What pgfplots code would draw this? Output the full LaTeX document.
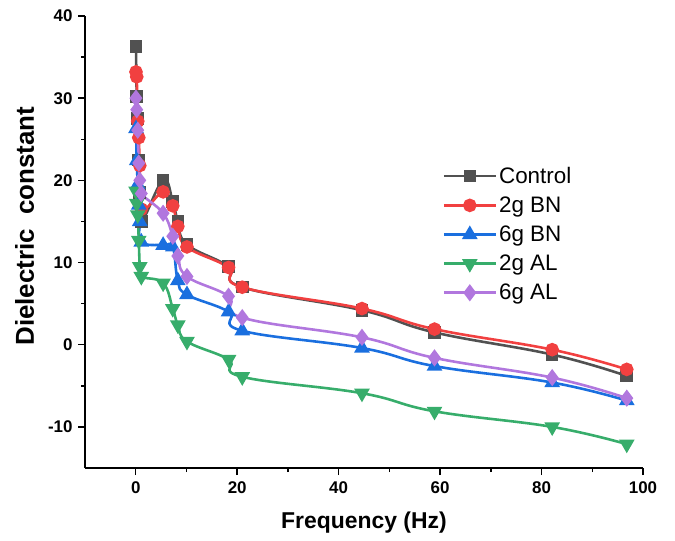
\documentclass[border=0pt]{standalone}
\usepackage{fontspec}
\setmainfont{Liberation Sans}
\usepackage{pgfplots}
\pgfplotsset{compat=1.18}
\definecolor{cctrl}{RGB}{81,81,81}
\definecolor{cbn2}{RGB}{241,64,64}
\definecolor{cbn6}{RGB}{26,111,223}
\definecolor{cal2}{RGB}{55,173,107}
\definecolor{cal6}{RGB}{177,119,222}

% frequency (Hz) vs dielectric constant
\pgfplotstableread{
f     ctrl  bn2   bn6   al2   al6
0.05  36.3  33.2  26.3  18.7  30.0
0.2   30.2  32.6  22.4  17.2  28.6
0.4   27.5  27.2  19.5  15.8  26.1
0.6   22.5  25.2  17.0  12.7  22.1
0.8   18.5  21.8  15.0   9.5  20.0
1.1   15.0  16.5  12.5   8.3  18.4
5.4   20.0  18.6  12.1   7.5  16.0
7.3   17.4  16.9  11.9   4.4  13.2
8.3   15.0  14.4   7.8   2.4  10.8
10.1  12.2  11.9   6.1   0.4   8.3
18.3   9.5   9.4   4.0  -1.8   5.9
21.0   7.0   7.0   1.7  -3.9   3.3
44.6   4.2   4.4  -0.4  -5.9   0.9
58.9   1.5   1.9  -2.6  -8.1  -1.6
82.1  -1.2  -0.6  -4.6 -10.0  -4.0
96.8  -3.8  -3.0  -6.8 -12.1  -6.5
}\dielectric

\begin{document}
\begin{tikzpicture}
\useasboundingbox (-85bp,-73bp) rectangle (590bp,468bp);
\begin{axis}[
    at={(0,0)}, anchor=south west,
    scale only axis,
    width=558bp, height=452bp,
    xmin=-10, xmax=100,
    ymin=-15, ymax=40,
    axis x line*=bottom,
    axis y line*=left,
    axis line style={line width=1.6pt},
    xtick={0,20,...,100},
    ytick={-10,0,...,40},
    minor x tick num=1,
    minor y tick num=1,
    tick align=outside,
    major tick length=7bp,
    minor tick length=4bp,
    tick style={line width=1.4pt, black},
    /pgf/number format/assume math mode=true,
    ticklabel style={font=\fontsize{17}{17}\selectfont\bfseries},
    xticklabel style={yshift=-3bp},
    yticklabel style={xshift=-2bp},
    xlabel={Frequency (Hz)},
    ylabel={Dielectric~~constant},
    label style={font=\bfseries},
    x label style={font=\fontsize{23}{23}\selectfont\bfseries,
        at={(axis description cs:0.5,-0.12)}, anchor=center},
    y label style={font=\fontsize{26}{26}\selectfont\bfseries,
        at={(axis description cs:-0.108,0.535)}, anchor=center},
    every axis plot/.append style={line width=2.6pt, smooth, tension=0.7},
    legend cell align=left,
    legend style={
        draw=none, fill=none,
        at={(0.635,0.675)}, anchor=north west,
        font=\fontsize{22.5}{22.5}\selectfont,
        row sep=8bp,
        /tikz/every even column/.append style={column sep=5bp},
    },
    legend image code/.code={
        \draw[mark repeat=2, mark phase=2, line width=2.6pt]
            plot coordinates {(0bp,0bp) (26bp,0bp) (52bp,0bp)};
    },
]
\addplot[cctrl, mark=square*, mark size=5bp] table[x=f, y=ctrl] {\dielectric};
\addlegendentry{Control}
\addplot[cbn2, mark=*, mark size=5.5bp] table[x=f, y=bn2] {\dielectric};
\addlegendentry{2g BN}
\addplot[cbn6, mark=triangle*, mark size=6.5bp] table[x=f, y=bn6] {\dielectric};
\addlegendentry{6g BN}
\addplot[cal2, mark=triangle*, mark options={rotate=180}, mark size=6.5bp] table[x=f, y=al2] {\dielectric};
\addlegendentry{2g AL}
\addplot[cal6, mark=diamond*, mark size=6.5bp] table[x=f, y=al6] {\dielectric};
\addlegendentry{6g AL}
\end{axis}
\end{tikzpicture}
\end{document}
